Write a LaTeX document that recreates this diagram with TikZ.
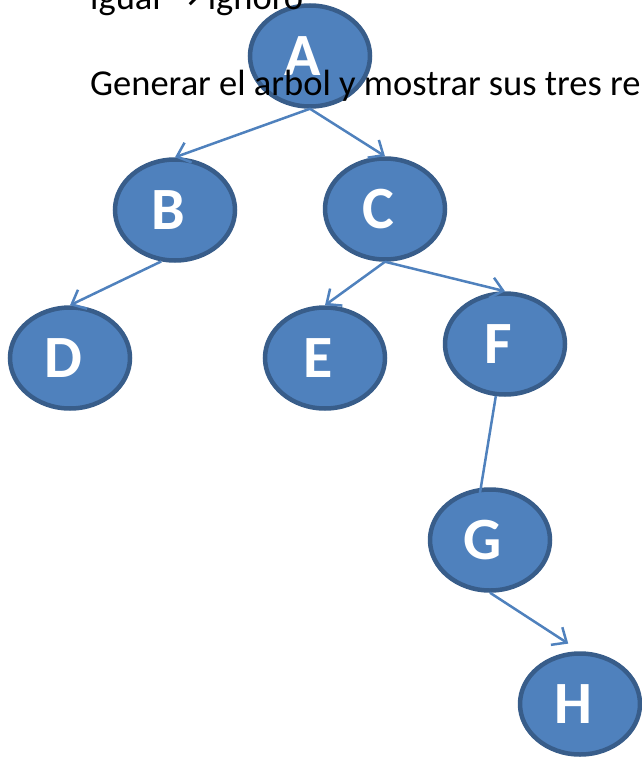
\documentclass[tikz,border=0pt]{standalone}
\usepackage{fontspec}
\setmainfont{Carlito}
\newfontfamily\flechafont{DejaVu Sans}
\usetikzlibrary{shapes.geometric,arrows.meta}
\definecolor{azul}{RGB}{79,129,189}
\definecolor{borde}{RGB}{56,93,138}

\begin{document}
\begin{tikzpicture}[x=1pt,y=-1pt,
	nodo/.style={ellipse,draw=borde,fill=azul,line width=4.5pt,minimum width=120pt,minimum height=101pt,inner sep=0pt,text=white,font=\bfseries\fontsize{60}{60}\selectfont,execute at begin node=\kern-14pt},
	flecha/.style={draw=azul,line width=2.5pt,-{Straight Barb[length=12pt,width=21pt]}},
	texto/.style={anchor=base west,inner sep=0pt,font=\fontsize{36.5}{36.5}\selectfont}]
	\useasboundingbox (0,0) rectangle (642,760);
	\clip (0,0) rectangle (642,760);
	% arbol
	\node[nodo] (A) at (310,56) {A};
	\node[nodo] (B) at (175,210) {B};
	\node[nodo] (C) at (385,209) {C};
	\node[nodo] (D) at (70,358) {D};
	\node[nodo] (E) at (325,358) {E};
	\node[nodo] (F) at (505,344) {F};
	\node[nodo] (G) at (490,540) {G};
	\node[nodo] (H) at (580,704) {H};
	% texto
	\node[texto] (t1) at (90,10) {igual {\flechafont →} ignoro};
	\node[texto] (t2) at (90,95) {Generar el arbol y mostrar sus tres re};
	% ramas
	\draw[flecha] (A.south) -- (B.north);
	\draw[flecha] (A.south) -- (C.north);
	\draw[flecha] (B.-105) -- (D.north);
	\draw[flecha] (C.south) -- (E.north);
	\draw[flecha] (C.south) -- (F.north);
	\draw[flecha,shorten >=-24pt] (F.-100) -- (G.100);
	\draw[flecha,shorten >=14pt] (G.south) -- (H.north);
\end{tikzpicture}
\end{document}
